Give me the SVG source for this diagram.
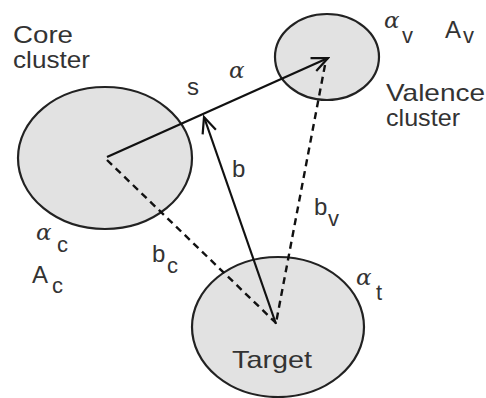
<svg xmlns="http://www.w3.org/2000/svg" width="486" height="398" viewBox="0 0 486 398">
<style>
.node{fill:#e2e2e2;stroke:#222;stroke-width:2.2}
.t{font-family:"Liberation Sans",Arial,sans-serif;font-size:24px;fill:#333}
.g{font-family:"DejaVu Serif","Liberation Serif",serif;font-style:italic;font-size:23px;fill:#333}
.sub{font-family:"Liberation Sans",Arial,sans-serif;font-size:22px;fill:#333}
.solid{stroke:#111;stroke-width:2.2;fill:none}
.dash{stroke:#111;stroke-width:2.4;fill:none;stroke-dasharray:7 5}
</style>
<defs>
<marker id="open" viewBox="0 0 20 20" refX="18" refY="10" markerWidth="20" markerHeight="20" markerUnits="userSpaceOnUse" orient="auto">
<polyline points="2,3 18,10 2,17" fill="none" stroke="#111" stroke-width="2.2"/>
</marker>
</defs>
<rect width="486" height="398" fill="#fff"/>
<g id="core"><ellipse class="node" cx="105" cy="158" rx="87" ry="71"/></g>
<g id="valence"><ellipse class="node" cx="327" cy="57" rx="52" ry="43"/></g>
<g id="target"><ellipse class="node" cx="278" cy="327" rx="86" ry="70"/></g>
<g id="connectors">
<line class="dash" x1="107" y1="160" x2="276" y2="323"/>
<line class="dash" x1="325" y1="65" x2="276" y2="323"/>
<line class="solid" x1="107" y1="157" x2="328" y2="58" marker-end="url(#open)"/>
<line class="solid" x1="276" y1="324" x2="204" y2="117" marker-end="url(#open)"/>
</g>
<g id="labels">
<text class="t" x="13" y="43" textLength="60" lengthAdjust="spacingAndGlyphs">Core</text>
<text class="t" x="13" y="68" textLength="77" lengthAdjust="spacingAndGlyphs">cluster</text>
<text class="t" x="187" y="95">s</text>
<text class="g" x="229" y="78">α</text>
<text class="g" x="384" y="28">α</text><text class="sub" x="402" y="43">v</text>
<text class="t" x="445" y="38">A</text><text class="sub" x="463" y="43">v</text>
<text class="t" x="386" y="101" textLength="99" lengthAdjust="spacingAndGlyphs">Valence</text>
<text class="t" x="386" y="126" textLength="74" lengthAdjust="spacingAndGlyphs">cluster</text>
<text class="t" x="232" y="177">b</text>
<text class="t" x="314" y="215">b</text><text class="sub" x="328" y="226">v</text>
<text class="g" x="36" y="240">α</text><text class="sub" x="57" y="252">c</text>
<text class="t" x="32" y="283">A</text><text class="sub" x="52" y="293">c</text>
<text class="t" x="152" y="262">b</text><text class="sub" x="167" y="273">c</text>
<text class="g" x="356" y="285">α</text><text class="sub" x="376" y="300">t</text>
<text class="t" x="232" y="368" textLength="80" lengthAdjust="spacingAndGlyphs">Target</text>
</g>
</svg>
